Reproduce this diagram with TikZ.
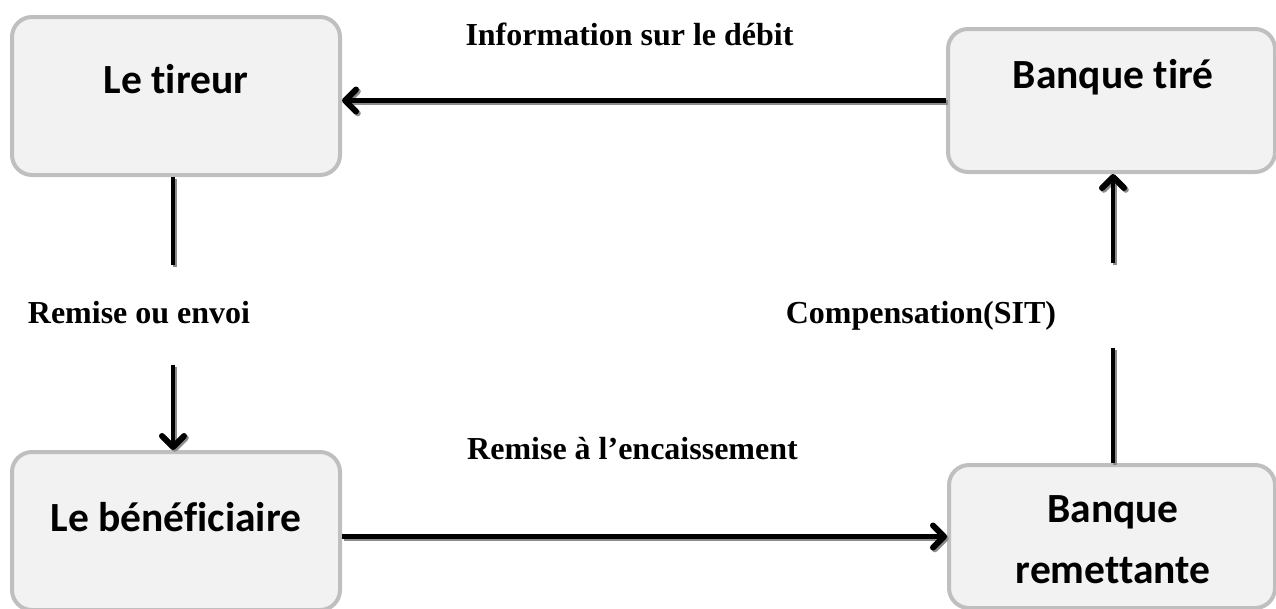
\documentclass[tikz,border=0pt]{standalone}
\usepackage{fontspec}
\setmainfont{Liberation Serif}
\newfontfamily\calibri[Ligatures=NoCommon]{Carlito}
\usetikzlibrary{arrows.meta}
\begin{document}
\begin{tikzpicture}[x=1pt,y=-1pt,
  box/.style={draw=boxgray, fill=boxfill, line width=4pt, rounded corners=20pt, inner sep=0pt},
  boxtext/.style={font=\calibri\bfseries\fontsize{41.5}{48}\selectfont, anchor=base, inner sep=0pt},
  lbl/.style={font=\bfseries\fontsize{32}{38}\selectfont, anchor=base, inner sep=0pt},
  conn/.style={line width=4.5pt, black,
    preaction={draw=shadowgray, line width=4.5pt, transform canvas={shift={(1.8pt,-1.8pt)}}}},
  tip/.style={-{Straight Barb[length=11pt,width=22pt,line width=6pt,round]}}
]
\definecolor{boxgray}{HTML}{BFBFBF}
\definecolor{boxfill}{HTML}{F2F2F2}
\definecolor{shadowgray}{HTML}{8C8C8C}
\useasboundingbox (0,0) rectangle (1276,608);

% boxes
\node[box, minimum width=328pt, minimum height=158pt] (tl) at (176,96) {};
\node[box, minimum width=327pt, minimum height=143pt] (tr) at (1111.5,100.5) {};
\node[box, minimum width=328pt, minimum height=158pt] (bl) at (176,531) {};
\node[box, minimum width=326pt, minimum height=143pt] (br) at (1112,536.5) {};

% box texts
\node[boxtext] (tltext) at (176,93) {Le tireur};
\node[boxtext] (trtext) at (1113,88) {Banque tiré};
\node[boxtext] (bltext) at (176,531) {Le bénéficiaire};
\node[boxtext] (brtext1) at (1113,522) {Banque};
\node[boxtext] (brtext2) at (1113,583) {remettante};

% labels
\node[lbl] (l1) at (629.5,45) {Information sur le débit};
\node[lbl] (l2) at (139,323) {Remise ou envoi};
\node[lbl] (l3) at (921,323) {Compensation(SIT)};
\node[lbl] (l4) at (632.5,459) {Remise à l’encaissement};

% connector helper points
\coordinate (a1) at (173,265);
\coordinate (a2) at (173,365);
\coordinate (b1) at (1113,263);
\coordinate (b2) at (1113,348);

% connectors
\draw[conn, tip] (tr.west) -- (tr.west -| tl.east);
\draw[conn] (tl.south -| a1) -- (a1);
\draw[conn, tip] (a2) -- (a2 |- bl.north);
\draw[conn, tip] (br.west -| bl.east) -- (br.west);
\draw[conn] (br.north -| b2) -- (b2);
\draw[conn, tip] (b1) -- (b1 |- tr.south);
\end{tikzpicture}
\end{document}
